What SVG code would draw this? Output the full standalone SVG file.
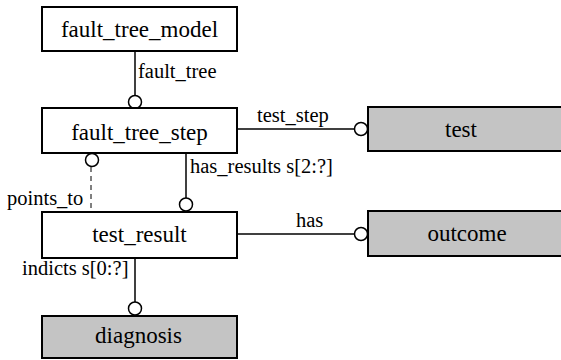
<svg xmlns="http://www.w3.org/2000/svg" width="561" height="360" viewBox="0 0 561 360">
<style>
.box{fill:#fff;stroke:#000;stroke-width:2}
.gbox{fill:#c4c4c4;stroke:#000;stroke-width:2}
.t{font-size:23px;fill:#000;text-anchor:middle}
.l{font-size:20.5px;fill:#000}
.c{stroke:#000;stroke-width:1.5;fill:none}
.o{stroke:#000;stroke-width:1.5;fill:#fff}
.d{stroke:#000;stroke-width:1;fill:none;stroke-dasharray:5,4}
</style>
<g font-family="Liberation Serif, serif">
<g id="connectors">
<line class="c" x1="135" y1="51" x2="135" y2="96"/>
<circle class="o" cx="135" cy="102" r="6.5"/>
<text class="l" x="138" y="78">fault_tree</text>
<line class="c" x1="237" y1="129" x2="354" y2="129"/>
<circle class="o" cx="361" cy="129" r="6.5"/>
<text class="l" x="257" y="122">test_step</text>
<line class="c" x1="186" y1="153" x2="186" y2="198"/>
<circle class="o" cx="186" cy="204.5" r="6.5"/>
<text class="l" x="190" y="173">has_results s[2:?]</text>
<circle class="o" cx="92" cy="160" r="6.5"/>
<line class="d" x1="91" y1="167" x2="91" y2="212"/>
<text class="l" x="7" y="205">points_to</text>
<line class="c" x1="237" y1="234" x2="354" y2="234"/>
<circle class="o" cx="361" cy="234" r="6.5"/>
<text class="l" x="296" y="227">has</text>
<line class="c" x1="135" y1="258" x2="135" y2="302"/>
<circle class="o" cx="135" cy="308.5" r="6.5"/>
<text class="l" x="22" y="275">indicts s[0:?]</text>
</g>
<g id="fault_tree_model">
<rect class="box" x="42" y="7" width="195" height="44"/>
<text class="t" x="139.5" y="37">fault_tree_model</text>
</g>
<g id="fault_tree_step">
<rect class="box" x="42" y="108" width="195" height="45"/>
<text class="t" x="139.5" y="140">fault_tree_step</text>
</g>
<g id="test_result">
<rect class="box" x="42" y="212" width="195" height="46"/>
<text class="t" x="139.5" y="242">test_result</text>
</g>
<g id="diagnosis">
<rect class="gbox" x="42" y="316" width="195" height="42"/>
<text class="t" x="138.5" y="343">diagnosis</text>
</g>
<g id="test">
<rect class="gbox" x="368" y="107" width="200" height="44"/>
<text class="t" x="461" y="137">test</text>
</g>
<g id="outcome">
<rect class="gbox" x="368" y="211" width="200" height="45"/>
<text class="t" x="467" y="241">outcome</text>
</g>
</g>
</svg>
